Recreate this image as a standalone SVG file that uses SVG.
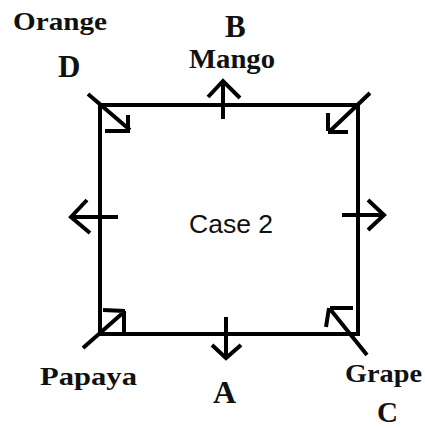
<svg xmlns="http://www.w3.org/2000/svg" width="425" height="428" viewBox="0 0 425 428">
<style>
.ln{stroke:#000;stroke-width:4;fill:none;stroke-linecap:butt;stroke-linejoin:miter}
.lb{font-family:"Liberation Serif","Times New Roman",serif;font-weight:bold;fill:#111}
.cs{font-family:"Liberation Sans",Arial,sans-serif;fill:#111}
</style>
<rect width="425" height="428" fill="#fff"/>
<g id="connectors">
<path class="ln" d="M100,105 H358 V334 H100 Z"/>
<path class="ln" d="M88,94 L130,130 M128,115 V132 M105,131 H130"/>
<path class="ln" d="M370,93 L330,131 M328,113 V131 M328,132 H348"/>
<path class="ln" d="M83,348 L125,311 M103,310 L125,311 M124,311 V333"/>
<path class="ln" d="M367,355 L330,309 M330,308 H353 M329,308 L326,327"/>
<path class="ln" d="M223,119 V81 M208,97 L223,81 L240,98"/>
<path class="ln" d="M226,317 V357 M212,345 L226,358 L241,345"/>
<path class="ln" d="M118,217 H71 M87,200 L71,217 L90,233"/>
<path class="ln" d="M342,215 H384 M368,200 L384,215 L368,230"/>
</g>
<g id="orange"><text class="lb" x="13" y="30" font-size="26" textLength="94" lengthAdjust="spacingAndGlyphs">Orange</text></g>
<g id="D"><text class="lb" x="58" y="77" font-size="31">D</text></g>
<g id="B"><text class="lb" x="225" y="37" font-size="31">B</text></g>
<g id="mango"><text class="lb" x="189" y="68" font-size="27" textLength="86" lengthAdjust="spacingAndGlyphs">Mango</text></g>
<g id="case"><text class="cs" x="189" y="233" font-size="26" textLength="84" lengthAdjust="spacingAndGlyphs">Case 2</text></g>
<g id="papaya"><text class="lb" x="40" y="385" font-size="26" textLength="97" lengthAdjust="spacingAndGlyphs">Papaya</text></g>
<g id="A"><text class="lb" x="213" y="403" font-size="32">A</text></g>
<g id="grape"><text class="lb" x="345" y="382" font-size="26" textLength="77" lengthAdjust="spacingAndGlyphs">Grape</text></g>
<g id="C"><text class="lb" x="377" y="422" font-size="29">C</text></g>
</svg>
